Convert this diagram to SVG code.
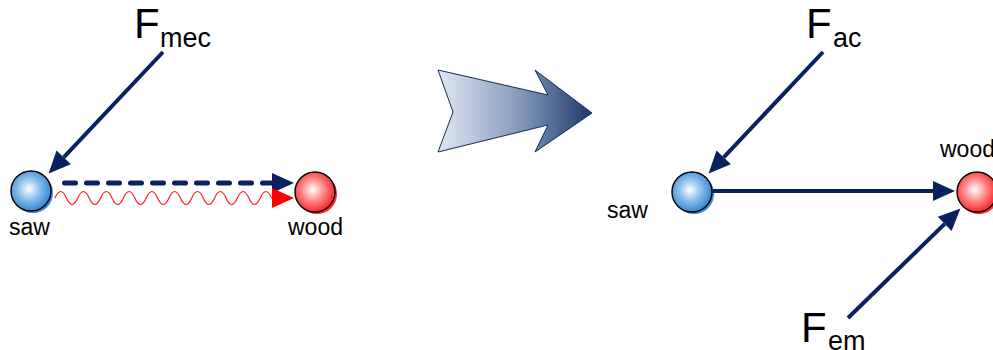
<svg xmlns="http://www.w3.org/2000/svg" width="993" height="350" viewBox="0 0 993 350">
  <style>
    .lbl { font-family: "Liberation Sans", Arial, sans-serif; font-size: 23px; fill: #000; }
    .F { font-family: "Liberation Sans", Arial, sans-serif; font-size: 42px; fill: #000; }
    .sub { font-family: "Liberation Sans", Arial, sans-serif; font-size: 27px; fill: #000; }
    .force { stroke: #0a2160; stroke-width: 4; fill: none; marker-end: url(#navyHead); }
    .outline { stroke: #000; stroke-width: 1.4; }
  </style>
  <defs>
    <marker id="navyHead" markerUnits="userSpaceOnUse" markerWidth="22" markerHeight="20" refX="0" refY="9" viewBox="0 0 20 18" orient="auto" overflow="visible">
      <path d="M0,0 L20,9 L0,18 z" fill="#0a2160"/>
    </marker>
    <marker id="redHead" markerUnits="userSpaceOnUse" markerWidth="22" markerHeight="20" refX="0" refY="9" viewBox="0 0 20 18" orient="auto" overflow="visible">
      <path d="M0,0 L20,9 L0,18 z" fill="#ff0000"/>
    </marker>
    <radialGradient id="blueBall" cx="0.45" cy="0.45" r="0.6">
      <stop offset="0" stop-color="#ffffff"/>
      <stop offset="0.45" stop-color="#8cc0ec"/>
      <stop offset="1" stop-color="#2a7ccc"/>
    </radialGradient>
    <radialGradient id="redBall" cx="0.45" cy="0.45" r="0.6">
      <stop offset="0" stop-color="#ffffff"/>
      <stop offset="0.45" stop-color="#ff8c8c"/>
      <stop offset="1" stop-color="#f01818"/>
    </radialGradient>
    <linearGradient id="bigArrow" x1="0" y1="0" x2="1" y2="0">
      <stop offset="0" stop-color="#e0e7f2"/>
      <stop offset="0.5" stop-color="#8a9fc0"/>
      <stop offset="1" stop-color="#1e3a6c"/>
    </linearGradient>
  </defs>

  <!-- Left: saw -->
  <g id="saw-left">
    <circle cx="33" cy="193" r="20" fill="#3a8ad8"/>
    <circle cx="31" cy="191" r="20" fill="url(#blueBall)" class="outline"/>
    <text x="9" y="235" class="lbl">saw</text>
  </g>
  <!-- Left: wood -->
  <g id="wood-left">
    <circle cx="317" cy="194" r="20" fill="#ff2a2a"/>
    <circle cx="315" cy="192" r="20" fill="url(#redBall)" class="outline"/>
    <text x="288" y="235" class="lbl">wood</text>
  </g>
  <g id="Fmec">
    <text x="134" y="38" class="F">F</text>
    <text x="160" y="47" class="sub">mec</text>
  </g>

  <!-- Big arrow -->
  <g id="big-arrow">
    <polygon points="439,71 549,96 536,71 593,114 536,153 549,126 439,153 454,112" fill="none" stroke="#ffffff" stroke-width="1.5"/>
    <polygon points="438,70 548,95 535,70 592,113 535,152 548,125 438,152 453,112" fill="url(#bigArrow)" stroke="#1a2a5a" stroke-width="1"/>
  </g>

  <!-- Right: saw -->
  <g id="saw-right">
    <circle cx="694" cy="194" r="20" fill="#3a8ad8"/>
    <circle cx="692" cy="192" r="20" fill="url(#blueBall)" class="outline"/>
    <text x="607" y="218" class="lbl">saw</text>
  </g>
  <!-- Right: wood -->
  <g id="wood-right">
    <circle cx="979" cy="194" r="20" fill="#ff2a2a"/>
    <circle cx="977" cy="192" r="20" fill="url(#redBall)" class="outline"/>
    <text x="940" y="157" class="lbl">wood</text>
  </g>
  <g id="Fac">
    <text x="806" y="38" class="F">F</text>
    <text x="833" y="47" class="sub">ac</text>
  </g>
  <g id="Fem">
    <text x="801" y="342" class="F">F</text>
    <text x="828" y="350" class="sub">em</text>
  </g>

  <!-- Connectors -->
  <g id="connectors">
    <line x1="163" y1="52" x2="63.7" y2="157.4" class="force"/>
    <line x1="64.5" y1="183" x2="272" y2="183" stroke="#0a2160" stroke-width="5" stroke-linecap="round" stroke-dasharray="11 11" marker-end="url(#navyHead)"/>
    <path d="M55,198 q5.7,-13 11.4,0 t11.4,0 t11.4,0 t11.4,0 t11.4,0 t11.4,0 t11.4,0 t11.4,0 t11.4,0 t11.4,0 t11.4,0 t11.4,0 t11.4,0 t11.4,0 t11.4,0 t11.4,0 t11.4,0 t11.4,0 t11.4,0 L272,198" fill="none" stroke="#ff2020" stroke-width="1.2" marker-end="url(#redHead)"/>
    <line x1="823" y1="52" x2="723.7" y2="157.4" class="force"/>
    <line x1="713" y1="191" x2="933" y2="191" class="force"/>
    <line x1="848" y1="318" x2="944.7" y2="223.9" class="force"/>
  </g>
</svg>
